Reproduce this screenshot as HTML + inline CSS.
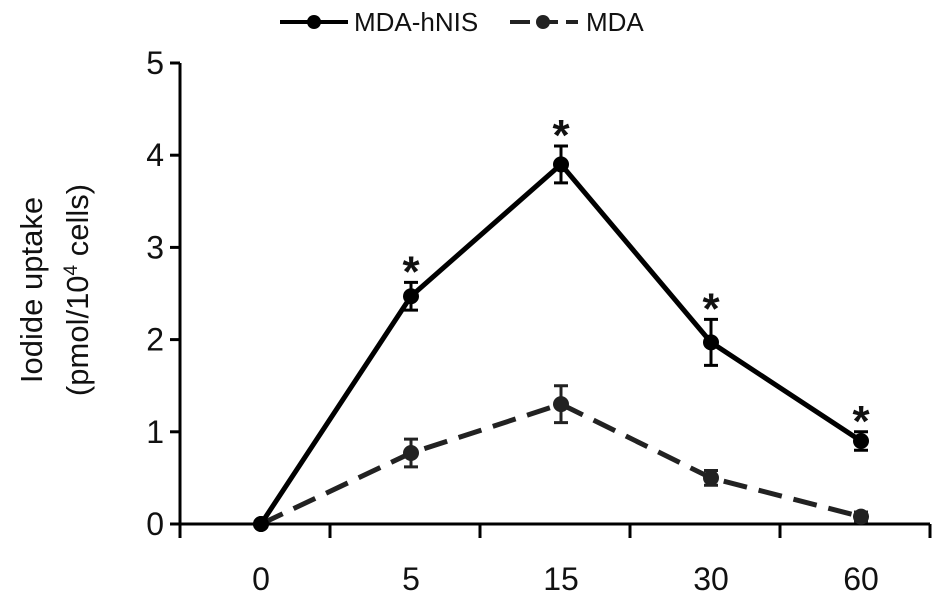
<!DOCTYPE html>
<html><head><meta charset="utf-8"><style>
body{margin:0;background:#fff;}
svg text{font-family:"Liberation Sans",Arial,sans-serif;fill:#111;}
</style></head><body>
<svg width="945" height="602" viewBox="0 0 945 602">
<g id="axes"></g><g id="series"></g>
<g>
 <line x1="280" y1="22" x2="348" y2="22" stroke="#000" stroke-width="4"/>
 <circle cx="314" cy="22" r="7" fill="#000"/>
 <text x="354" y="31" font-size="26">MDA-hNIS</text>
 <line x1="510" y1="22" x2="578" y2="22" stroke="#222" stroke-width="4" stroke-dasharray="20,8"/>
 <circle cx="543" cy="22" r="7" fill="#222"/>
 <text x="586" y="31" font-size="26">MDA</text>
</g>
<g>
 <text transform="translate(42,290) rotate(-90)" text-anchor="middle" font-size="31">Iodide uptake</text>
 <text transform="translate(88,290) rotate(-90)" text-anchor="middle" font-size="31">(pmol/10<tspan font-size="19" dy="-11">4</tspan><tspan dy="11"> cells)</tspan></text>
</g>
</svg>
<script>
const categories=["0","5","15","30","60"];
const hnisValues=[0,2.47,3.9,1.97,0.9];
const hnisErr=[0,0.15,0.2,0.25,0.1];
const mdaValues=[0,0.77,1.3,0.5,0.08];
const mdaErr=[0,0.15,0.2,0.08,0.05];
const significant=[false,true,true,true,true];
const yTicks=[0,1,2,3,4,5];
const NS="http://www.w3.org/2000/svg";
const X0=180,X1=930,Y0=524,Y1=63,YMAX=5;
const bw=(X1-X0)/categories.length;
const xs=i=>X0+bw*(i+0.5)+6;
const ys=v=>Y0-(Y0-Y1)*v/YMAX;
function mk(p,t,a){const e=document.createElementNS(NS,t);for(const k in a)e.setAttribute(k,a[k]);p.appendChild(e);return e;}
const ax=document.getElementById('axes');
let l=mk(ax,'line',{x1:X0,y1:Y1,x2:X0,y2:Y0,stroke:'#000','stroke-width':3});


l=mk(ax,'line',{x1:X0-10,y1:Y0,x2:X1,y2:Y0,stroke:'#000','stroke-width':3});


yTicks.forEach(v=>{
 const t=mk(ax,'line',{x1:X0-10,y1:ys(v),x2:X0,y2:ys(v),stroke:'#000','stroke-width':3});
 
 
 const tx=mk(ax,'text',{x:X0-16,y:ys(v)+11,'text-anchor':'end','font-size':32});
 tx.textContent=v;
 
 
});
for(let i=0;i<=categories.length;i++){
 const x=X0+bw*i;
 const t=mk(ax,'line',{x1:x,y1:Y0,x2:x,y2:Y0+14,stroke:'#000','stroke-width':3});
 
 
}
categories.forEach((c,i)=>{
 const tx=mk(ax,'text',{x:xs(i),y:590,'text-anchor':'middle','font-size':32});
 tx.textContent=c;
 
 
});
const sg=document.getElementById('series');
function series(vals,errs,col,dash,name){
 const g=mk(sg,'g',{});
 
 
 const pl=mk(g,'polyline',{points:vals.map((v,i)=>xs(i)+','+ys(v)).join(' '),fill:'none',stroke:col,'stroke-width':5,'stroke-dasharray':dash});
 
 
 vals.forEach((v,i)=>{
  if(errs[i]>0){
   const x=xs(i),a=ys(v+errs[i]),b=ys(v-errs[i]);
   const e=mk(g,'path',{d:`M${x},${a}V${b}M${x-7},${a}H${x+7}M${x-7},${b}H${x+7}`,stroke:col,'stroke-width':3,fill:'none'});
   
   
  }
  const c=mk(g,'circle',{cx:xs(i),cy:ys(v),r:8,fill:col});
  
  
 });
}
series(mdaValues,mdaErr,'#222','24,12','mda-series');
series(hnisValues,hnisErr,'#000','none','mda-hnis-series');
significant.forEach((s,i)=>{
 if(!s)return;
 const t=mk(sg,'text',{x:xs(i),y:ys(hnisValues[i]+hnisErr[i])+4,'text-anchor':'middle','font-size':44,'font-weight':'bold'});
 t.textContent='*';
 
 
});
</script>
</body></html>
